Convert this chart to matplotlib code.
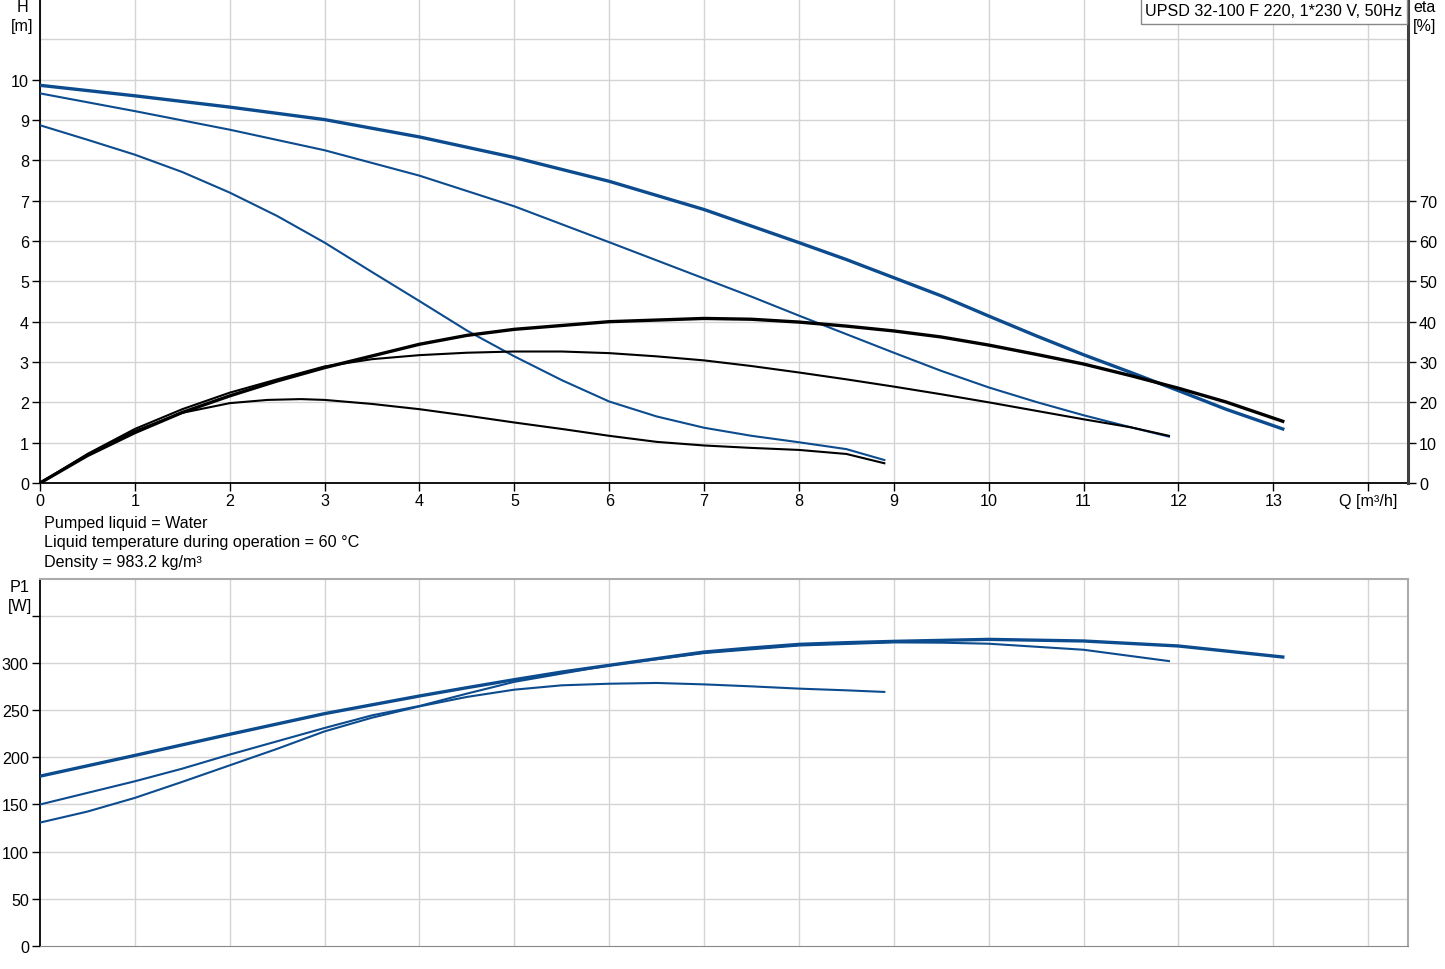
import matplotlib.pyplot as plt
from matplotlib.patches import Rectangle
import numpy as np

plt.rcParams['font.family'] = ['Liberation Sans', 'DejaVu Sans']

# Q-H curves (3 speeds)
q_h_max = [0, 1, 2, 3, 4, 5, 6, 7, 7.5, 8, 8.5, 9, 9.5, 10, 10.5, 11, 11.5, 12, 12.5, 13.1]
h_max = [9.86, 9.60, 9.32, 9.01, 8.58, 8.07, 7.48, 6.78, 6.37, 5.96, 5.54, 5.09, 4.64,
         4.14, 3.65, 3.18, 2.74, 2.29, 1.83, 1.34]

q_h_mid = [0, 1, 2, 3, 4, 5, 6, 7, 7.5, 8, 8.5, 9, 9.5, 10, 10.5, 11, 11.5, 11.9]
h_mid = [9.66, 9.22, 8.76, 8.25, 7.62, 6.86, 5.97, 5.07, 4.62, 4.15, 3.69, 3.23, 2.78,
         2.37, 2.01, 1.68, 1.38, 1.15]

q_h_low = [0, 0.5, 1, 1.5, 2, 2.5, 3, 3.5, 4, 4.5, 5, 5.5, 6, 6.5, 7, 7.5, 8, 8.5, 8.9]
h_low = [8.87, 8.51, 8.14, 7.71, 7.20, 6.62, 5.96, 5.23, 4.51, 3.78, 3.14, 2.55, 2.02,
         1.65, 1.37, 1.17, 1.01, 0.84, 0.57]

# efficiency curves [%]
q_eta_max = [0, 0.5, 1, 1.5, 2, 2.5, 3, 4, 4.5, 5, 6, 7, 7.5, 8, 8.5, 9, 9.5, 10,
             10.5, 11, 11.5, 12, 12.5, 13.1]
eta_max = [0, 6.8, 12.5, 17.5, 21.6, 25.3, 28.6, 34.4, 36.6, 38.1, 40.0, 40.8, 40.6,
           39.9, 38.9, 37.7, 36.2, 34.2, 31.9, 29.5, 26.6, 23.5, 20.1, 15.3]

q_eta_mid = [0, 0.5, 1, 1.5, 2, 2.5, 3, 3.5, 4, 4.5, 5, 5.5, 6, 6.5, 7, 7.5, 8, 8.5, 9,
             9.5, 10, 10.5, 11, 11.5, 11.9]
eta_mid = [0, 7.2, 13.4, 18.3, 22.4, 25.7, 28.9, 30.7, 31.7, 32.3, 32.6, 32.6, 32.2,
           31.4, 30.4, 29.0, 27.4, 25.7, 23.9, 22.0, 20.0, 17.9, 15.8, 13.8, 11.7]

q_eta_low = [0, 0.5, 1, 1.5, 2, 2.4, 2.75, 3, 3.5, 4, 4.5, 5, 5.5, 6, 6.5, 7, 7.5,
             8, 8.5, 8.9]
eta_low = [0, 7.0, 12.9, 17.4, 19.8, 20.6, 20.8, 20.6, 19.6, 18.3, 16.7, 15.0, 13.4,
           11.7, 10.2, 9.3, 8.7, 8.2, 7.2, 4.9]

# power curves P1 [W]
q_p_max = [0, 1, 2, 3, 4, 4.5, 5, 5.5, 6, 6.5, 7, 7.5, 8, 8.5, 9, 10, 11, 12, 13.1]
p_max = [180, 202, 224.4, 246.3, 265, 273.8, 282.3, 290.4, 297.5, 304.6, 311.6, 315.9,
         319.7, 321.5, 322.9, 325, 323.3, 318, 306.3]

q_p_mid = [0, 0.5, 1, 1.5, 2, 2.5, 3, 3.5, 4, 4.5, 5, 6, 7, 8, 9, 9.5, 10, 11, 11.9]
p_mid = [150, 162.3, 174.6, 188, 202.9, 217, 231.1, 244.5, 254.4, 267.5, 280, 297.5,
         310.5, 318.5, 321.8, 321.5, 320.4, 314, 302]

q_p_low = [0, 0.5, 1, 1.5, 2, 2.5, 3, 3.5, 4, 4.5, 5, 5.5, 6, 6.5, 7, 7.5, 8, 8.5, 8.9]
p_low = [130.8, 142.5, 157, 174, 191.5, 209, 227.5, 242, 254, 264, 271.7, 276.3, 278,
         278.8, 277.3, 275.2, 272.8, 271, 269.3]

x_labels = ['0', '1', '2', '3', '4', '5', '6', '7', '8', '9', '10', '11', '12', '13', 'Q [m³/h]']
title = 'UPSD 32-100 F 220, 1*230 V, 50Hz'
info = ['Pumped liquid = Water', 'Liquid temperature during operation = 60 °C', 'Density = 983.2 kg/m³']

blue = '#0c4b8e'
grid_c = '#d4d4d4'
fs = 11.6
W, H = 1445, 970

fig = plt.figure(figsize=(W / 100, H / 100), dpi=100)
ax1 = fig.add_axes([40 / W, (H - 484) / H, (1408 - 40) / W, 484 / H])
ax3 = fig.add_axes([40 / W, (H - 947) / H, (1408 - 40) / W, (947 - 580) / H])

# --- oberer Plot: H und eta ---
ax1.set_xlim(0, 14.42)
ax1.set_ylim(0, 12)
ax1.set_xticks(np.arange(0, 15))
ax1.set_xticklabels(x_labels)
ax1.set_yticks(np.arange(0, 11))
for v in range(0, 15):
    ax1.axvline(v, color=grid_c, lw=1, zorder=0)
for v in range(1, 12):
    ax1.axhline(v, color=grid_c, lw=1, zorder=0)

ax1.plot(q_h_max, h_max, color=blue, lw=2.4, zorder=3)
ax1.plot(q_h_mid, h_mid, color=blue, lw=1.5, zorder=3)
ax1.plot(q_h_low, h_low, color=blue, lw=1.5, zorder=3)

ax2 = ax1.twinx()
ax2.set_ylim(0, 120)
ax2.set_yticks(np.arange(0, 80, 10))
ax2.plot(q_eta_max, eta_max, color='black', lw=2.4, zorder=3)
ax2.plot(q_eta_mid, eta_mid, color='black', lw=1.5, zorder=3)
ax2.plot(q_eta_low, eta_low, color='black', lw=1.5, zorder=3)

for a in (ax1, ax2):
    a.spines['top'].set_visible(False)
    a.tick_params(labelsize=fs, length=6, width=1, colors='black', pad=2)
ax1.spines['right'].set_visible(False)
ax2.spines['left'].set_visible(False)
ax2.spines['bottom'].set_visible(False)
ax2.spines['right'].set_color('#404040')
ax2.spines['right'].set_linewidth(2.2)
ax1.spines['left'].set_linewidth(1.3)
ax1.spines['bottom'].set_linewidth(1.3)
ax1.tick_params(axis='x', length=6, pad=1.5)

fig.text(22 / W, 1 - 8 / H, 'H', ha='center', va='center', fontsize=fs)
fig.text(22 / W, 1 - 26 / H, '[m]', ha='center', va='center', fontsize=fs)
fig.text(1425 / W, 1 - 8 / H, 'eta', ha='center', va='center', fontsize=fs)
fig.text(1425 / W, 1 - 26 / H, '[%]', ha='center', va='center', fontsize=fs)

# Titelkasten oben rechts
fig.patches.append(Rectangle((1141 / W, 1 - 25 / H), (1407 - 1141) / W, 26 / H,
                             transform=fig.transFigure, fc='white', ec='#888888', lw=1,
                             zorder=5))
fig.text(1274 / W, 1 - 12 / H, title, ha='center', va='center', fontsize=fs, zorder=6)

for i, line in enumerate(info):
    fig.text(44 / W, 1 - (523.5 + i * 19.5) / H, line, ha='left', va='center', fontsize=fs)

# --- unterer Plot: P1 ---
ax3.set_xlim(0, 14.42)
ax3.set_ylim(0, 389)
ax3.set_xticks([])
ax3.set_yticks(np.arange(0, 400, 50))
ax3.set_yticklabels(['0', '50', '100', '150', '200', '250', '300', ''])
for v in range(1, 15):
    ax3.axvline(v, color=grid_c, lw=1, zorder=0)
for v in range(50, 400, 50):
    ax3.axhline(v, color=grid_c, lw=1, zorder=0)

ax3.plot(q_p_max, p_max, color=blue, lw=2.4, zorder=3)
ax3.plot(q_p_mid, p_mid, color=blue, lw=1.5, zorder=3)
ax3.plot(q_p_low, p_low, color=blue, lw=1.5, zorder=3)

ax3.spines['top'].set_color('#aaaaaa')
ax3.spines['right'].set_color('#aaaaaa')
ax3.spines['top'].set_linewidth(1.5)
ax3.spines['right'].set_linewidth(1.5)
ax3.spines['left'].set_linewidth(1.3)
ax3.spines['bottom'].set_color('#888888')
ax3.tick_params(labelsize=fs, length=6, width=1, pad=2)

fig.text(20 / W, 1 - 588 / H, 'P1', ha='center', va='center', fontsize=fs)
fig.text(20 / W, 1 - 606 / H, '[W]', ha='center', va='center', fontsize=fs)

fig.savefig('out.png', dpi=100)
